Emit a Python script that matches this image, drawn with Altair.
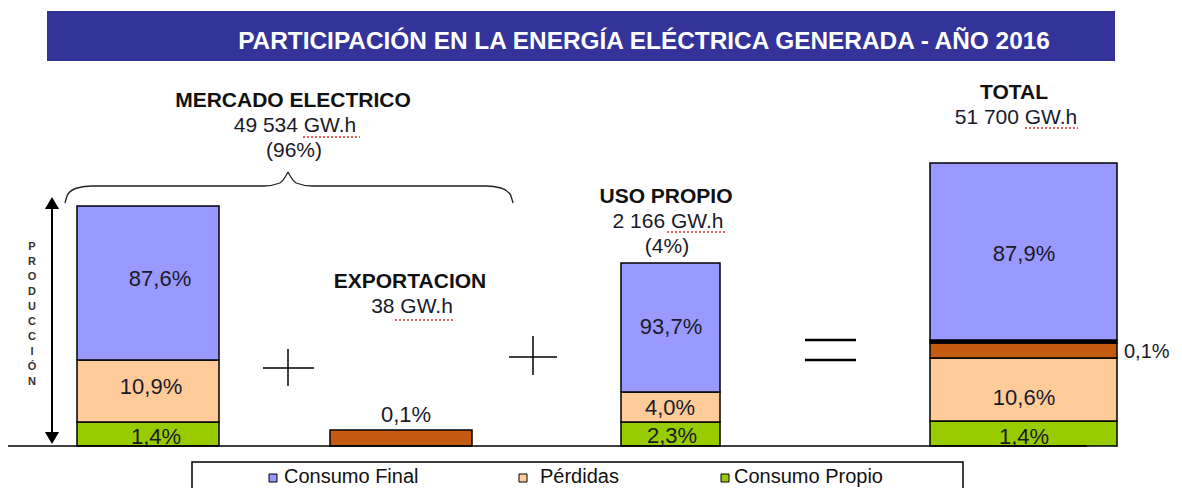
import altair as alt
import pandas as pd

W, H = 1166, 480
BASE = 446  # page y of the ground line

# ---------------- data ----------------
title = "PARTICIPACIÓN  EN LA ENERGÍA ELÉCTRICA GENERADA - AÑO 2016"

bar_ids = ["M", "E", "U", "T"]
bar_names = ["MERCADO ELECTRICO", "EXPORTACION", "USO PROPIO", "TOTAL"]
bar_energy = ["49 534 GW.h", "38 GW.h", "2 166 GW.h", "51 700 GW.h"]
bar_share = ["(96%)", "", "(4%)", ""]

seg_bar = ["M", "M", "M", "E", "U", "U", "U", "T", "T", "T", "T", "T"]
seg_comp = ["Consumo Propio", "Pérdidas", "Consumo Final", "Exportación",
            "Consumo Propio", "Pérdidas", "Consumo Final",
            "Consumo Propio", "Pérdidas", "Exportación", "Separador", "Consumo Final"]
seg_label = ["1,4%", "10,9%", "87,6%", "0,1%", "2,3%", "4,0%", "93,7%",
             "1,4%", "10,6%", "0,1%", "", "87,9%"]
# schematic (drawn) heights of each stacked block
seg_height = [24, 62, 154, 16, 24, 30, 129, 25, 63, 15, 3, 177]

legend_items = ["Consumo Final", "Pérdidas", "Consumo Propio"]

comp_colors = {"Consumo Final": "#9999FF", "Pérdidas": "#FFCC99",
               "Consumo Propio": "#99CC00", "Exportación": "#C55A11",
               "Separador": "#000000"}

# ---------------- layout ----------------
bar_x = {"M": (77, 219), "E": (330, 472), "U": (621, 720), "T": (930, 1117)}
head_pos = {"M": (293, 101), "E": (410, 282), "U": (666, 197), "T": (1014, 93)}
label_pos = [(156, 437), (151, 387), (160, 279), (406, 415), (672, 436), (670, 408),
             (671, 327), (1024, 437), (1024, 398), (1124, 352), (0, 0), (1024, 254)]
label_side = ["center"] * 9 + ["left", "center", "center"]

xs = alt.Scale(domain=[8, 8 + W], nice=False, zero=False)
ys = alt.Scale(domain=[8, 8 + H], reverse=True, nice=False, zero=False)
X = lambda f="x": alt.X(f"{f}:Q", scale=xs, axis=None)
Y = lambda f="y": alt.Y(f"{f}:Q", scale=ys, axis=None)

# segments
rows = []
cum = {b: 0 for b in bar_ids}
for b, c, lab, h, (lx, ly), al in zip(seg_bar, seg_comp, seg_label, seg_height, label_pos, label_side):
    h0 = cum[b]
    h1 = h0 + h
    cum[b] = h1
    rows.append(dict(bar=b, comp=c, lab=lab, x=bar_x[b][0], x2=bar_x[b][1],
                     y=BASE - h1, y2=BASE - h0, color=comp_colors[c],
                     lx=lx, ly=ly, side=al))
seg = pd.DataFrame(rows)

bars = alt.Chart(seg).mark_rect(stroke="black", strokeWidth=1.5).encode(
    x=X(), x2="x2:Q", y=Y(), y2="y2:Q", fill=alt.Fill("color:N", scale=None))

lab_c = alt.Chart(seg[(seg["lab"] != "") & (seg["side"] == "center")]).mark_text(
    font="Liberation Sans", fontSize=22, color="#1a1a2a", baseline="middle", align="center"
).encode(x=X("lx"), y=Y("ly"), text="lab:N")
lab_l = alt.Chart(seg[(seg["lab"] != "") & (seg["side"] == "left")]).mark_text(
    font="Liberation Sans", fontSize=20, color="#1a1a2a", baseline="middle", align="left"
).encode(x=X("lx"), y=Y("ly"), text="lab:N")

# headers
hrows, srows = [], []
for b, n, e, s in zip(bar_ids, bar_names, bar_energy, bar_share):
    hx, hy = head_pos[b]
    hrows.append(dict(x=hx, y=hy, t=n))
    srows.append(dict(x=hx + 2, y=hy + 25, t=e))
    if s:
        srows.append(dict(x=hx + 1, y=hy + 50, t=s))
heads = alt.Chart(pd.DataFrame(hrows)).mark_text(
    font="Liberation Sans", fontSize=21, fontWeight="bold", color="#111111", baseline="middle"
).encode(x=X(), y=Y(), text="t:N")
subs = alt.Chart(pd.DataFrame(srows)).mark_text(
    font="Liberation Sans", fontSize=21, color="#1a1a2a", baseline="middle"
).encode(x=X(), y=Y(), text="t:N")

# spell-check underline under GW.h
sq = pd.DataFrame(dict(x=[303, 395, 667, 1025], x2=[360, 455, 727, 1078],
                       y=[137, 320, 232, 128]))
squig = alt.Chart(sq).mark_rule(color="#e03030", strokeWidth=1.5, strokeDash=[2, 2]).encode(
    x=X(), x2="x2:Q", y=Y())

# title banner
ban = pd.DataFrame(dict(x=[47], x2=[1115], y=[11], y2=[61]))
banner = alt.Chart(ban).mark_rect(fill="#333399").encode(x=X(), x2="x2:Q", y=Y(), y2="y2:Q")
ttl = alt.Chart(pd.DataFrame(dict(x=[644], y=[42], t=[title]))).mark_text(
    font="Liberation Sans", fontSize=24.4, fontWeight="bold", color="white", baseline="middle"
).encode(x=X(), y=Y(), text="t:N")

# operators (+, +, =) and ground line
ops = pd.DataFrame(dict(
    x=[263, 288, 509, 533, 805, 805, 8],
    x2=[314, 288, 557, 533, 856, 856, 1087],
    y=[368, 349, 357, 336, 340, 360, BASE],
    y2=[368, 386, 357, 375, 340, 360, BASE],
    w=[1.5, 1.5, 1.5, 1.5, 2.5, 2.5, 1.5]))
opsl = alt.Chart(ops).mark_rule(color="black").encode(
    x=X(), x2="x2:Q", y=Y(), y2="y2:Q", strokeWidth=alt.StrokeWidth("w:Q", scale=None))

# production arrow
arr = alt.Chart(pd.DataFrame(dict(x=[52], y=[206], y2=[434]))).mark_rule(
    color="black", strokeWidth=2).encode(x=X(), y=Y(), y2="y2:Q")
heads_arr = alt.Chart(pd.DataFrame(dict(x=[52, 52], y=[203, 438],
                                        s=["triangle-up", "triangle-down"]))).mark_point(
    filled=True, color="black", size=200, opacity=1).encode(
    x=X(), y=Y(), shape=alt.Shape("s:N", scale=None))
prod = list("PRODUCCIÓN")
prod_df = pd.DataFrame(dict(x=[32] * len(prod), y=[247 + 15 * i for i in range(len(prod))], t=prod))
prodt = alt.Chart(prod_df).mark_text(
    font="Liberation Sans", fontSize=11, fontWeight="bold", color="#3a3030", baseline="middle"
).encode(x=X(), y=Y(), text="t:N")

# curly brace over the electricity market block
brace = pd.DataFrame(dict(
    part=["L"] * 7 + ["R"] * 7,
    x=[65, 68, 77, 92, 264, 280, 288, 288, 296, 312, 486, 501, 510, 513],
    y=[203, 194, 188, 186, 186, 183, 172, 172, 183, 186, 186, 188, 194, 203]))
bracel = alt.Chart(brace).mark_line(color="#222222", strokeWidth=1.3, interpolate="monotone").encode(
    x=X(), y=Y(), detail="part:N")

# legend
lbox = alt.Chart(pd.DataFrame(dict(x=[192], x2=[963], y=[462], y2=[500]))).mark_rect(
    fill="white", stroke="black", strokeWidth=1.5).encode(x=X(), x2="x2:Q", y=Y(), y2="y2:Q")
leg = pd.DataFrame(dict(t=legend_items, sx=[269, 519, 721], tx=[284, 540, 734],
                        color=[comp_colors[c] for c in legend_items]))
leg["sx2"] = leg["sx"] + 8
leg["y"] = 474
leg["y2"] = 482
leg["ty"] = 477
lsq = alt.Chart(leg).mark_rect(stroke="black", strokeWidth=1).encode(
    x=X("sx"), x2="sx2:Q", y=Y(), y2="y2:Q", fill=alt.Fill("color:N", scale=None))
ltx = alt.Chart(leg).mark_text(
    font="Liberation Sans", fontSize=20, color="#111111", align="left", baseline="middle"
).encode(x=X("tx"), y=Y("ty"), text="t:N")

chart = alt.layer(
    banner, ttl, bracel, arr, heads_arr, prodt, bars, lab_c, lab_l, heads, subs, squig,
    opsl, lbox, lsq, ltx
).properties(
    width=W, height=H, padding=0, autosize=alt.AutoSizeParams(type="none"), background="white"
).configure_view(stroke=None)

chart.save("out.html", embed_options={"renderer": "svg", "actions": False})
